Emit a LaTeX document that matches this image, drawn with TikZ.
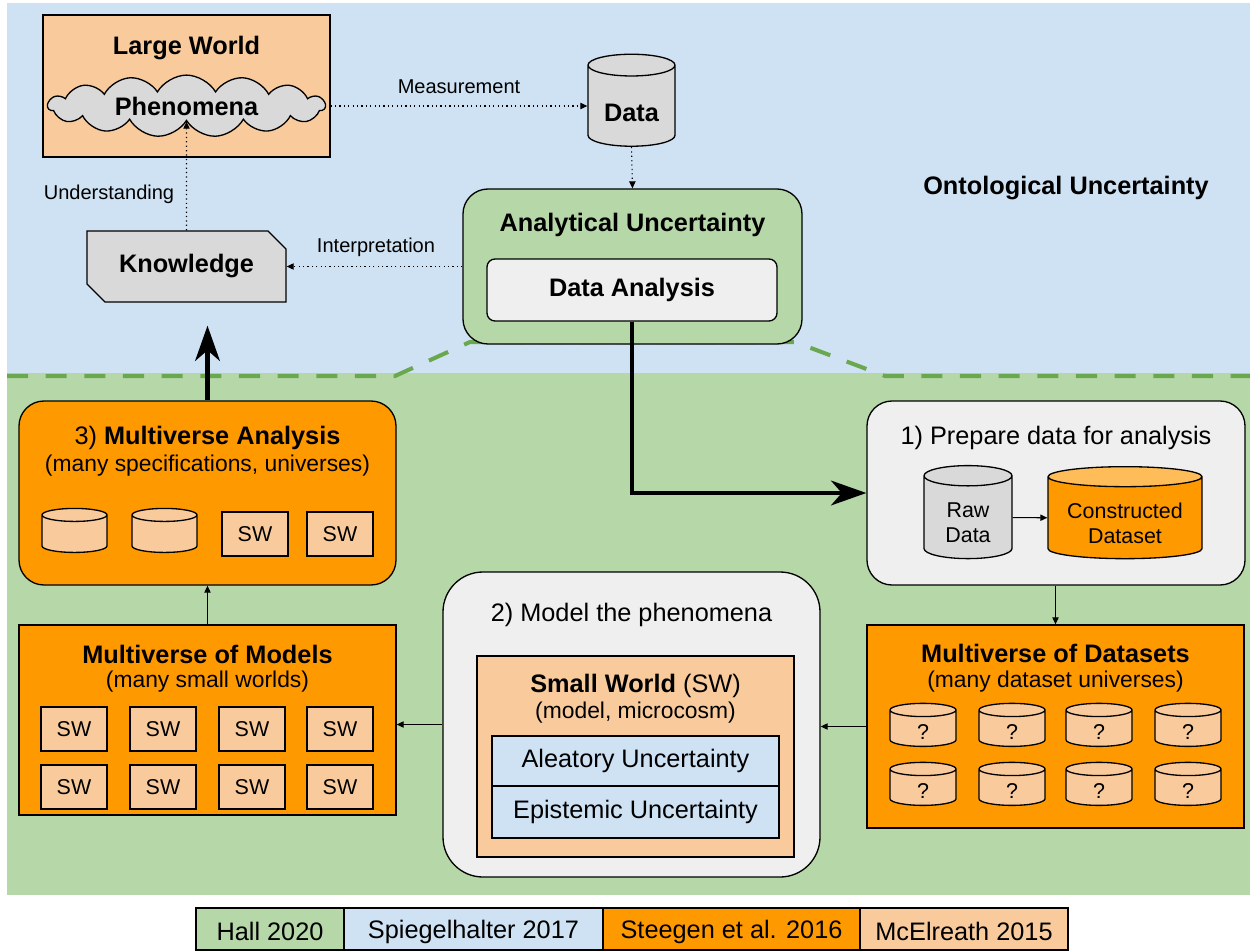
\documentclass[tikz,border=0pt]{standalone}
\usepackage{fontspec}
\setmainfont{Liberation Sans}
\usetikzlibrary{arrows.meta, positioning, shapes.geometric, shapes.misc, shapes.symbols}

\definecolor{skyblue}{HTML}{CFE2F3}
\definecolor{sage}{HTML}{B6D7A8}
\definecolor{dashgreen}{HTML}{6AA84F}
\definecolor{orng}{HTML}{FF9900}
\definecolor{peach}{HTML}{F9CB9C}
\definecolor{midgray}{HTML}{D9D9D9}
\definecolor{palegray}{HTML}{EFEFEF}

\newcommand{\fsbig}{\fontsize{14.4}{17}\selectfont}
\newcommand{\fsmid}{\fontsize{13}{15.5}\selectfont}
\newcommand{\fssmall}{\fontsize{12.2}{14.2}\selectfont}
\newcommand{\fslab}{\fontsize{11.4}{13.5}\selectfont}
\newcommand{\lowered}[2]{\raisebox{-#1}[\height][\depth]{#2}}

\tikzset{
  panel/.style={draw, line width=0.75pt, inner sep=0pt},
  roundpanel/.style={panel, rounded corners=0.5cm},
  cyl/.style={cylinder, shape border rotate=90, draw, line width=0.75pt, align=center,
    cylinder uses custom fill, cylinder body fill=#1, cylinder end fill=#1, inner sep=0pt},
  swbox/.style={panel, fill=peach, minimum width=1.32cm, minimum height=0.88cm, font=\fssmall},
  qcyl/.style={cyl=peach, text width=1.32cm, aspect=0.2, minimum height=0.86cm, font=\fssmall},
  lbl/.style={font=\fslab, inner sep=0pt},
  heading/.style={font=\fsbig\bfseries, inner sep=0pt},
  plain/.style={font=\fsbig, inner sep=0pt},
  sub/.style={font=\fsmid, inner sep=0pt},
  dotarrow/.style={->, line width=0.6pt, dash pattern=on 0.7pt off 1.8pt},
  thinarrow/.style={->, line width=0.6pt},
  thickarrow/.style={-{Stealth[length=20pt, width=14pt, inset=6pt]}, line width=2.8pt},
  zone/.style={dashgreen, line width=2.3pt, dash pattern=on 12pt off 10pt},
  legendbox/.style={panel, font=\fsbig, minimum height=0.84cm},
}

\begin{document}
\begin{tikzpicture}[x=0.2mm, y=-0.2mm, >={Triangle[length=4pt, width=3.6pt]}]
    \useasboundingbox (0,0) rectangle (1250,951);

    % Hintergrund
    \fill[skyblue] (7,3) rectangle (1250,373);
    \fill[sage] (7,373) rectangle (1250,895);
    \draw[zone] (7,376) -- (395,376) -- (470,342) -- (795,342) -- (885,376) -- (1250,376);

    % obere Haelfte
    \node[panel, fill=peach, minimum width=5.74cm, minimum height=2.84cm] (large) at (186.5,86) {};
    \node[heading] (largetitle) at (186.5,48) {Large World};
    \node[cloud, cloud puffs=15, cloud puff arc=120, aspect=5.3, draw, line width=0.75pt, fill=midgray,
          minimum width=5.54cm, minimum height=1.0cm, inner sep=0pt, font=\fsbig\bfseries] (phen) at (186.5,106) {Phenomena};
    \node[cyl=midgray, text width=1.74cm, aspect=0.25, minimum height=1.84cm, font=\fsbig\bfseries] (data) at (631.5,106) {\lowered{0.14cm}{Data}};
    \node[roundpanel, fill=sage, minimum width=6.78cm, minimum height=3.1cm] (analytic) at (632.5,266.5) {};
    \node[heading] (analytictitle) at (632.5,225) {Analytical Uncertainty};
    \node[panel, fill=palegray, rounded corners=0.16cm, minimum width=5.8cm, minimum height=1.24cm,
          font=\fsbig\bfseries] (analysis) at (632,290) {Data Analysis};
    \node[chamfered rectangle, chamfered rectangle corners={north east, south west},
          chamfered rectangle xsep=0.24cm, draw, line width=0.75pt, fill=midgray, inner sep=0pt,
          minimum width=3.98cm, minimum height=1.42cm, font=\fsbig\bfseries] (know) at (186.5,266.5) {Knowledge};

    \node[lbl] (measlbl) at (459,87) {Measurement};
    \node[lbl] (undlbl) at (109,194) {Understanding};
    \node[lbl] (intlbl) at (376,247) {Interpretation};
    \node[heading] (onto) at (1066,188) {Ontological Uncertainty};

    \draw[dotarrow] (phen -| large.east) -- (data.west |- phen);
    \draw[dotarrow] (data.south) -- (analytic.north);
    \draw[dotarrow] (analytic.west |- know) -- (know.east);
    \draw[dotarrow] (know.north) -- (phen.south);

    % 3) Multiverse Analysis
    \node[roundpanel, fill=orng, minimum width=7.54cm, minimum height=3.68cm] (mva) at (207.5,493) {};
    \node[plain] (mvatitle) at (207.5,438) {3) \textbf{Multiverse Analysis}};
    \node[sub] (mvasub) at (207.5,466) {(many specifications, universes)};
    \node[qcyl, text width=1.3cm, minimum height=0.88cm] (mvacyla) at (74.5,534) {};
    \node[qcyl, text width=1.3cm, minimum height=0.88cm] (mvacylb) at (164.5,534) {};
    \node[swbox] (mvaswa) at (255,534) {SW};
    \node[swbox] (mvaswb) at (340,534) {SW};

    % Multiverse of Models
    \node[panel, fill=orng, minimum width=7.54cm, minimum height=3.8cm] (models) at (207.5,720) {};
    \node[heading] (modelstitle) at (207.5,654) {Multiverse of Models};
    \node[sub] (modelssub) at (207.5,682) {(many small worlds)};
    \foreach \col/\x in {1/74,2/163,3/252,4/340}
      \foreach \row/\y in {1/729,2/787}
        \node[swbox] (sw\row\col) at (\x,\y) {SW};

    % 2) Model the phenomena
    \node[panel, fill=palegray, rounded corners=0.8cm, minimum width=7.54cm, minimum height=6.1cm] (model) at (631.5,724.5) {};
    \node[plain] (modeltitle) at (631.5,615) {2) Model the phenomena};
    \node[panel, fill=peach, minimum width=6.34cm, minimum height=4.02cm] (small) at (635.5,756.5) {};
    \node[plain] (smalltitle) at (635.5,686) {\textbf{Small World} (SW)};
    \node[sub] (smallsub) at (635.5,713) {(model, microcosm)};
    \node[panel, fill=skyblue, minimum width=5.74cm, minimum height=1.0cm, font=\fsbig] (alea) at (635.5,761) {Aleatory Uncertainty};
    \node[panel, fill=skyblue, minimum width=5.74cm, minimum height=1.04cm, font=\fsbig] (epis) at (635.5,812) {Epistemic Uncertainty};

    % 1) Prepare data
    \node[roundpanel, fill=palegray, minimum width=7.56cm, minimum height=3.68cm] (prep) at (1056,493) {};
    \node[plain] (preptitle) at (1056,438) {1) Prepare data for analysis};
    \node[cyl=midgray, text width=1.76cm, aspect=0.23, minimum height=1.86cm, font=\fssmall] (raw) at (968,517.5) {\lowered{0.1cm}{\parbox{1.76cm}{\centering Raw\\Data}}};
    \node[cyl=orng, cylinder end fill=orng!65!white, text width=3.08cm, aspect=0.13, minimum height=1.84cm,
          font=\fssmall] (cons) at (1125,518) {\lowered{0.1cm}{\parbox{3.08cm}{\centering Constructed\\Dataset}}};
    \draw[thinarrow] (raw) -- (cons);

    % Multiverse of Datasets
    \node[panel, fill=orng, minimum width=7.54cm, minimum height=4.06cm] (datasets) at (1055.5,726.5) {};
    \node[heading] (datasetstitle) at (1055.5,653) {Multiverse of Datasets};
    \node[sub] (datasetssub) at (1055.5,682) {(many dataset universes)};
    \foreach \col/\x in {1/923,2/1012,3/1099,4/1188}
      \foreach \row/\y in {1/728.5,2/787.5}
        \node[qcyl] (ds\row\col) at (\x,\y) {\lowered{0.08cm}{?}};

    % Verbindungen
    \draw[thickarrow] (analysis.south) |- (prep.west);
    \draw[thickarrow, shorten >=0.46cm] (mva.north) -- (mva.north |- know.south);
    \draw[thinarrow] (models.north) -- (mva.south);
    \draw[thinarrow] (model.west) -- (model.west -| models.east);
    \draw[thinarrow] (datasets.west) -- (datasets.west -| model.east);
    \draw[thinarrow] (prep.south -| datasets.north) -- (datasets.north);

    % Legende
    \node[legendbox, fill=sage, minimum width=2.96cm] (hall) at (270,929) {\lowered{0.05cm}{Hall 2020}};
    \node[legendbox, fill=skyblue, minimum width=5.18cm] (spieg) at (473.5,929) {\lowered{0.05cm}{Spiegelhalter 2017}};
    \node[legendbox, fill=orng, minimum width=5.14cm] (steeg) at (731.5,929) {\lowered{0.05cm}{Steegen et al. 2016}};
    \node[legendbox, fill=peach, minimum width=4.16cm] (mcel) at (964,929) {\lowered{0.05cm}{McElreath 2015}};
\end{tikzpicture}
\end{document}
